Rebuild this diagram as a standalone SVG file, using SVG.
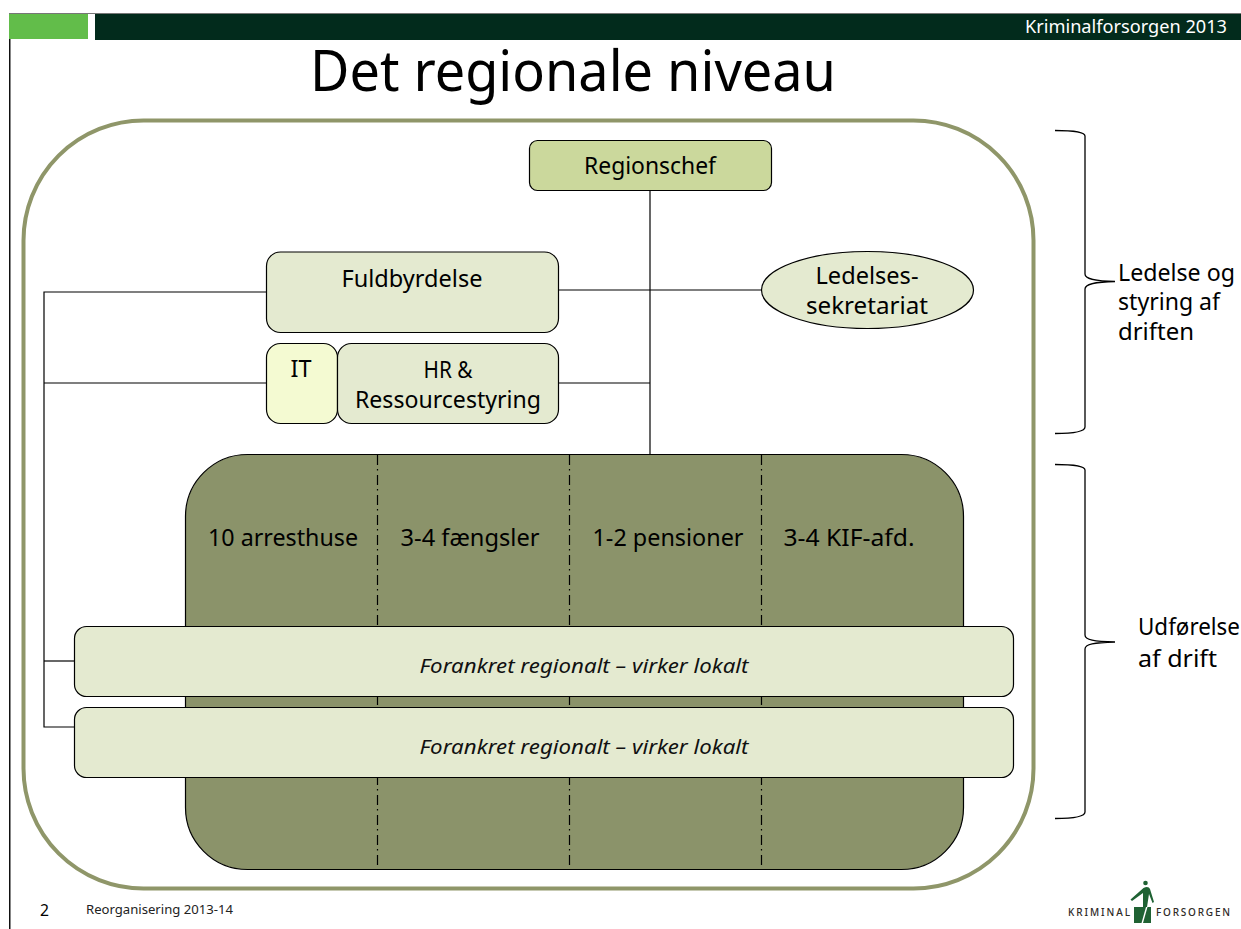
<svg xmlns="http://www.w3.org/2000/svg" width="1241" height="929" viewBox="0 0 1241 929">
<style>
text{font-family:"Noto Sans","DejaVu Sans",sans-serif;fill:#000}
.t{font-size:23px}
.m{text-anchor:middle}
.i{font-style:italic;font-size:19px;text-anchor:middle;fill:#111}
.n{stroke:#000;stroke-width:1.2}
.lt{fill:#e4ead0}
.c{fill:none;stroke:#000;stroke-width:1.2}
.d{fill:none;stroke:#000;stroke-width:1.2;stroke-dasharray:10 4 1.500 4.500}
.b{fill:none;stroke:#000;stroke-width:1.3}
</style>
<rect width="1241" height="929" fill="#fff"/>
<g id="header">
<rect x="9" y="13" width="1232" height="1" fill="#777"/>
<rect x="9" y="14" width="79" height="25" fill="#62bd4a"/>
<rect x="95" y="14" width="1146" height="26" fill="#022b1c"/>
<rect x="9" y="39" width="1.500" height="890" fill="#111"/>
<text x="1025" y="33" font-size="18" style="fill:#fff" textLength="202" lengthAdjust="spacingAndGlyphs">Kriminalforsorgen 2013</text>
<text id="title" x="310" y="91" font-size="56" textLength="526" lengthAdjust="spacingAndGlyphs">Det regionale niveau</text>
</g>
<rect id="frame" x="23.500" y="120.500" width="1010" height="768" rx="120" ry="120" fill="#fff" stroke="#8f9669" stroke-width="4"/>
<g id="connectors">
<path class="c" d="M650 191V455"/>
<path class="c" d="M559 290H762"/>
<path class="c" d="M559 383H650"/>
<path class="c" d="M266 292H44V727H74"/>
<path class="c" d="M266 383H44"/>
<path class="c" d="M44 661H74"/>
</g>
<g id="drift">
<rect class="n" x="185.500" y="454.500" width="778" height="415" rx="62" ry="62" fill="#8b936a"/>
<path class="d" d="M377.500 455V869"/>
<path class="d" d="M569.500 455V869"/>
<path class="d" d="M761.500 455V869"/>
<text class="t m" x="283" y="546" textLength="150" lengthAdjust="spacingAndGlyphs">10 arresthuse</text>
<text class="t m" x="470" y="546" textLength="139" lengthAdjust="spacingAndGlyphs">3-4 fængsler</text>
<text class="t m" x="668" y="546" textLength="151" lengthAdjust="spacingAndGlyphs">1-2 pensioner</text>
<text class="t m" x="849" y="546" textLength="131" lengthAdjust="spacingAndGlyphs">3-4 KIF-afd.</text>
</g>
<g id="regionschef">
<rect class="n" x="529.500" y="140.500" width="242" height="50" rx="8" fill="#cbd89c"/>
<text class="t m" x="650" y="174" textLength="132" lengthAdjust="spacingAndGlyphs">Regionschef</text>
</g>
<g id="fuldbyrdelse">
<rect class="n lt" x="266.500" y="252" width="292" height="80.500" rx="14"/>
<text class="t m" x="412" y="287" textLength="141" lengthAdjust="spacingAndGlyphs">Fuldbyrdelse</text>
</g>
<g id="ledelsessekretariat">
<ellipse class="n lt" cx="867.500" cy="290" rx="106" ry="38.500"/>
<text class="t m" x="867" y="284" textLength="103" lengthAdjust="spacingAndGlyphs">Ledelses-</text>
<text class="t m" x="867" y="314" textLength="122" lengthAdjust="spacingAndGlyphs">sekretariat</text>
</g>
<g id="it">
<rect class="n" x="266.500" y="343.500" width="71" height="80" rx="14" fill="#f4fad2"/>
<text class="t m" x="301" y="377" textLength="21" lengthAdjust="spacingAndGlyphs">IT</text>
</g>
<g id="hr">
<rect class="n lt" x="337.500" y="343.500" width="221" height="80" rx="14"/>
<text class="t m" x="448" y="378" textLength="49" lengthAdjust="spacingAndGlyphs">HR &amp;</text>
<text class="t m" x="448" y="408" textLength="186" lengthAdjust="spacingAndGlyphs">Ressourcestyring</text>
</g>
<g id="forankret1">
<rect class="n lt" x="74.500" y="626.500" width="939" height="70" rx="12"/>
<text class="i" x="584" y="673" textLength="329" lengthAdjust="spacingAndGlyphs">Forankret regionalt – virker lokalt</text>
</g>
<g id="forankret2">
<rect class="n lt" x="74.500" y="707.500" width="939" height="70" rx="12"/>
<text class="i" x="584" y="754" textLength="329" lengthAdjust="spacingAndGlyphs">Forankret regionalt – virker lokalt</text>
</g>
<g id="braces">
<path class="b" d="M1055 130.500C1072 130.500 1085 131.500 1085 136V274C1085 279 1094 281 1115 281.500C1094 282 1085 284 1085 289V427C1085 432 1072 433.500 1055 433.500"/>
<path class="b" d="M1055 464.500C1072 464.500 1085 465.500 1085 470V635C1085 640 1094 641.500 1115 642C1094 642.500 1085 644 1085 649V812C1085 817 1072 818.500 1055 818.500"/>
<text class="t" x="1118" y="281" textLength="117" lengthAdjust="spacingAndGlyphs">Ledelse og</text>
<text class="t" x="1118" y="310" textLength="102" lengthAdjust="spacingAndGlyphs">styring af</text>
<text class="t" x="1118" y="340" textLength="76" lengthAdjust="spacingAndGlyphs">driften</text>
<text class="t" x="1138" y="635" textLength="102" lengthAdjust="spacingAndGlyphs">Udførelse</text>
<text class="t" x="1138" y="667" textLength="79" lengthAdjust="spacingAndGlyphs">af drift</text>
</g>
<g id="footer">
<text x="40" y="916" font-size="17" textLength="9" lengthAdjust="spacingAndGlyphs">2</text>
<text x="86" y="914" font-size="13" style="fill:#222" textLength="147" lengthAdjust="spacingAndGlyphs">Reorganisering 2013-14</text>
<g id="logo">
<path d="M1134 907H1146L1141.500 923H1134ZM1147.500 907H1151V923H1143Z" fill="#1f6233"/>
<circle cx="1145.500" cy="883" r="2.300" fill="#1f6233"/>
<path d="M1143.500 888C1147 886 1149 887 1150 889L1154 902L1152.500 903L1149 894L1147 907H1143V893L1132 901L1130.500 899.500Z" fill="#1f6233"/>
<text x="1068" y="916" font-size="10" font-weight="500" style="fill:#2e2a26" textLength="62" lengthAdjust="spacing">KRIMINAL</text>
<text x="1156" y="916" font-size="10" font-weight="500" style="fill:#2e2a26" textLength="74" lengthAdjust="spacing">FORSORGEN</text>
</g>
</g>
</svg>
